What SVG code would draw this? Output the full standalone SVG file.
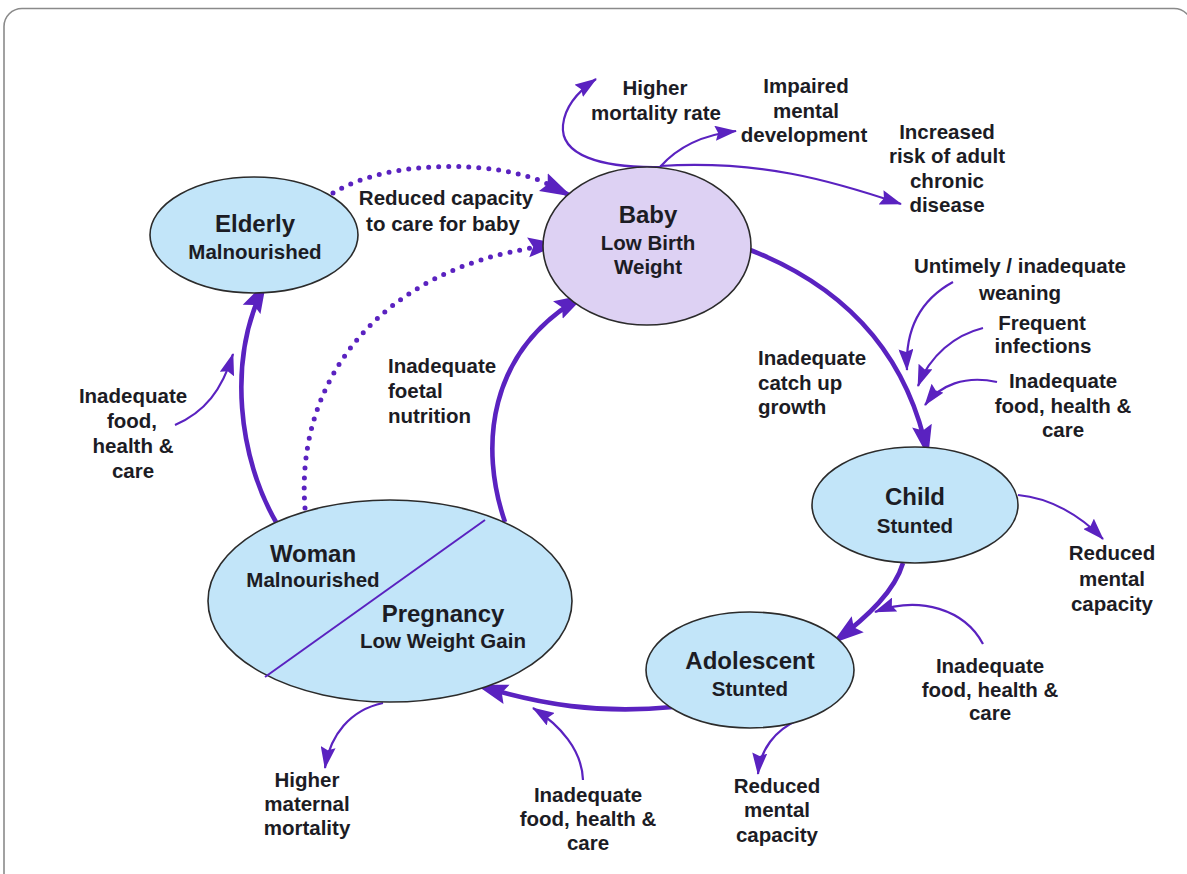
<svg xmlns="http://www.w3.org/2000/svg" width="1187" height="874" viewBox="0 0 1187 874">
  <style>
    .frame { fill: #ffffff; stroke: #8a8a8a; stroke-width: 1.6; }
    .node { fill: #c2e5f9; stroke: #2b2b2b; stroke-width: 1.6; }
    .baby { fill: #ddd1f3; }
    .title { font-family: "Liberation Sans", Arial, sans-serif; font-weight: bold; font-size: 24px; fill: #1c1c24; text-anchor: middle; }
    .sub { font-family: "Liberation Sans", Arial, sans-serif; font-weight: bold; font-size: 20.5px; fill: #1c1c24; text-anchor: middle; }
    .lbl { font-family: "Liberation Sans", Arial, sans-serif; font-weight: bold; font-size: 20.5px; fill: #1c1c24; text-anchor: middle; }
    .lbl-l { text-anchor: start; }
    .thick { fill: none; stroke: #5a22c0; stroke-width: 4.6; marker-end: url(#headBig); }
    .thin { fill: none; stroke: #5a22c0; stroke-width: 2.2; marker-end: url(#headSmall); }
    .dots { fill: none; stroke: #5a22c0; stroke-width: 5; stroke-linecap: round; stroke-dasharray: 0 10; }
    .divider { stroke: #5a22c0; stroke-width: 2; }
  </style>
  <defs>
    <marker id="headBig" markerUnits="userSpaceOnUse" viewBox="0 0 32 22" markerWidth="32" markerHeight="22" refX="31" refY="11" orient="auto">
      <path d="M0,1 L32,11 L0,21 L5,11 Z" fill="#5a22c0"/>
    </marker>
    <marker id="headSmall" markerUnits="userSpaceOnUse" viewBox="0 0 22 15" markerWidth="22" markerHeight="15" refX="21" refY="7.5" orient="auto">
      <path d="M0,0 L22,7.5 L0,15 L3,7.5 Z" fill="#5a22c0"/>
    </marker>
  </defs>

  <!-- slide frame -->
  <rect class="frame" x="4" y="8.5" width="1188" height="900" rx="18"/>

  <!-- connectors -->
  <g id="connectors">
    <!-- main cycle -->
    <path class="thick" d="M745,248 C830,280 905,340 928,456"/>
    <path class="thick" d="M903,563 C895,590 870,615 833,643"/>
    <path class="thick" d="M673,707 C600,714 540,705 477,685"/>
    <path class="thick" d="M505,522 C480,450 485,350 585,295"/>
    <path class="thick" d="M276,522 C240,460 225,360 266,282"/>
    <!-- dotted links to baby -->
    <path class="dots" d="M333,193 C390,158 500,160 550,185"/>
    <path class="thick" d="M548,184 C555,188 563,192 571,196"/>
    <path class="dots" d="M305,508 C295,380 380,270 538,247"/>
    <path class="thick" d="M536,247 C543,246 550,245 559,244"/>
    <!-- baby outcomes -->
    <path class="thin" d="M660,167 C600,168 560,155 563,125 C565,105 580,90 596,79"/>
    <path class="thin" d="M660,167 C675,150 700,135 736,131"/>
    <path class="thin" d="M660,166 C760,160 830,180 901,204"/>
    <!-- influences on growth after birth -->
    <path class="thin" d="M953,282 C920,300 905,330 907,370"/>
    <path class="thin" d="M983,328 C955,335 930,355 918,386"/>
    <path class="thin" d="M997,382 C965,375 940,385 925,405"/>
    <!-- child / adolescent -->
    <path class="thin" d="M1018,495 C1050,498 1080,515 1103,539"/>
    <path class="thin" d="M983,644 C965,610 920,595 875,612"/>
    <path class="thin" d="M798,720 C775,730 760,750 758,774"/>
    <!-- woman -->
    <path class="thin" d="M383,703 C350,710 330,735 325,768"/>
    <path class="thin" d="M583,780 C582,750 560,725 533,708"/>
    <path class="thin" d="M175,425 C205,412 222,390 233,354"/>
  </g>

  <!-- nodes -->
  <g id="elderly">
    <ellipse class="node" cx="254" cy="235" rx="104" ry="58"/>
    <text class="title" x="255" y="232">Elderly</text>
    <text class="sub" x="255" y="259">Malnourished</text>
  </g>
  <g id="baby">
    <ellipse class="node baby" cx="647" cy="246" rx="104" ry="79"/>
    <text class="title" x="648" y="223">Baby</text>
    <text class="sub" x="648" y="250">Low Birth</text>
    <text class="sub" x="648" y="274">Weight</text>
  </g>
  <g id="child">
    <ellipse class="node" cx="915" cy="505" rx="103" ry="58"/>
    <text class="title" x="915" y="505">Child</text>
    <text class="sub" x="915" y="533">Stunted</text>
  </g>
  <g id="adolescent">
    <ellipse class="node" cx="750" cy="670" rx="104" ry="58"/>
    <text class="title" x="750" y="669">Adolescent</text>
    <text class="sub" x="750" y="696">Stunted</text>
  </g>
  <g id="woman">
    <ellipse class="node" cx="390" cy="601" rx="182" ry="101"/>
    <line class="divider" x1="265" y1="677" x2="485" y2="520"/>
    <text class="title" x="313" y="562">Woman</text>
    <text class="sub" x="313" y="587">Malnourished</text>
    <text class="title" x="443" y="622">Pregnancy</text>
    <text class="sub" x="443" y="648">Low Weight Gain</text>
  </g>

  <!-- labels -->
  <g id="labels">
    <text class="lbl" x="655" y="95">Higher</text>
    <text class="lbl" x="656" y="120">mortality rate</text>

    <text class="lbl" x="806" y="93">Impaired</text>
    <text class="lbl" x="806" y="118">mental</text>
    <text class="lbl" x="804" y="142">development</text>

    <text class="lbl" x="947" y="139">Increased</text>
    <text class="lbl" x="947" y="163">risk of adult</text>
    <text class="lbl" x="947" y="188">chronic</text>
    <text class="lbl" x="947" y="212">disease</text>

    <text class="lbl" x="446" y="205">Reduced capacity</text>
    <text class="lbl" x="443" y="231">to care for baby</text>

    <text class="lbl" x="1020" y="273">Untimely / inadequate</text>
    <text class="lbl" x="1020" y="300">weaning</text>
    <text class="lbl" x="1042" y="330">Frequent</text>
    <text class="lbl" x="1043" y="353">infections</text>
    <text class="lbl" x="1063" y="388">Inadequate</text>
    <text class="lbl" x="1063" y="413">food, health &amp;</text>
    <text class="lbl" x="1063" y="437">care</text>

    <text class="lbl lbl-l" x="758" y="365">Inadequate</text>
    <text class="lbl lbl-l" x="758" y="390">catch up</text>
    <text class="lbl lbl-l" x="758" y="414">growth</text>

    <text class="lbl lbl-l" x="388" y="373">Inadequate</text>
    <text class="lbl lbl-l" x="388" y="398">foetal</text>
    <text class="lbl lbl-l" x="388" y="423">nutrition</text>

    <text class="lbl" x="133" y="403">Inadequate</text>
    <text class="lbl" x="132" y="428">food,</text>
    <text class="lbl" x="133" y="453">health &amp;</text>
    <text class="lbl" x="133" y="478">care</text>

    <text class="lbl" x="1112" y="560">Reduced</text>
    <text class="lbl" x="1112" y="586">mental</text>
    <text class="lbl" x="1112" y="611">capacity</text>

    <text class="lbl" x="990" y="673">Inadequate</text>
    <text class="lbl" x="990" y="697">food, health &amp;</text>
    <text class="lbl" x="990" y="720">care</text>

    <text class="lbl" x="307" y="787">Higher</text>
    <text class="lbl" x="307" y="811">maternal</text>
    <text class="lbl" x="307" y="835">mortality</text>

    <text class="lbl" x="588" y="802">Inadequate</text>
    <text class="lbl" x="588" y="826">food, health &amp;</text>
    <text class="lbl" x="588" y="850">care</text>

    <text class="lbl" x="777" y="793">Reduced</text>
    <text class="lbl" x="777" y="817">mental</text>
    <text class="lbl" x="777" y="842">capacity</text>
  </g>
</svg>
